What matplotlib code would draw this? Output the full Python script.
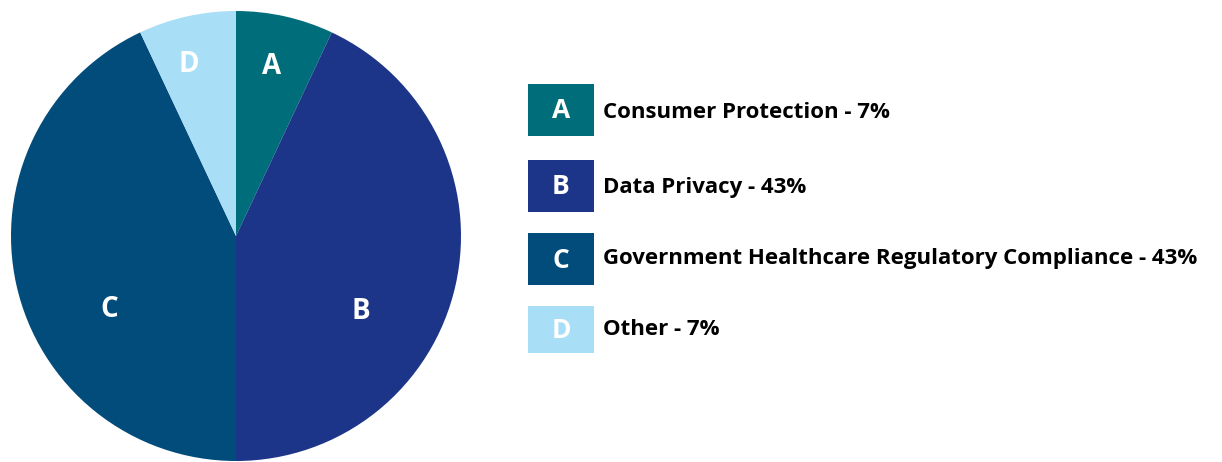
import numpy as np
import matplotlib.pyplot as plt
from matplotlib.patches import Rectangle

letters = ["A", "B", "C", "D"]
names = ["Consumer Protection", "Data Privacy",
         "Government Healthcare Regulatory Compliance", "Other"]
shares = [7, 43, 43, 7]
colors = ["#006E7A", "#1C3588", "#024C7C", "#A9DEF7"]

# where the letters sit inside the pie (radius, angle in degrees)
label_pos = [(0.77, 78), (0.65, -31), (0.65, 210), (0.79, 105.5)]

plt.rcParams['font.family'] = ['Open Sans', 'DejaVu Sans']

fig = plt.figure(figsize=(12.22, 4.62), dpi=100)

# Pie
ax = fig.add_axes([11 / 1222, 1 - 461 / 462, 450 / 1222, 450 / 462])
ax.pie(shares, colors=colors, startangle=90, counterclock=False,
       radius=1.0, wedgeprops=dict(linewidth=0))
ax.set_xlim(-1, 1)
ax.set_ylim(-1, 1)
ax.set_aspect('equal')
ax.axis('off')

for let, (r, ang) in zip(letters, label_pos):
    x = r * np.cos(np.radians(ang))
    y = r * np.sin(np.radians(ang))
    ax.text(x, y, let, color="white", fontsize=20, fontweight="bold",
            ha="center", va="center")

# Legend, in pixel coords
lg = fig.add_axes([0, 0, 1, 1])
lg.set_xlim(0, 1222)
lg.set_ylim(462, 0)
lg.axis('off')
box_top = [84, 160, 233, 306]
box_h = [52, 52, 52, 47]
text_base = [118, 193, 264, 335]
for i, (let, name, val) in enumerate(zip(letters, names, shares)):
    y0 = box_top[i]
    lg.add_patch(Rectangle((528, y0), 66, box_h[i], facecolor=colors[i],
                           edgecolor="none"))
    lg.text(561, y0 + box_h[i] / 2 + 1, let, color="white", fontsize=19,
            fontweight="bold", ha="center", va="center")
    lg.text(603, text_base[i], f"{name} - {val}%", color="black",
            fontsize=16, fontweight="bold", ha="left", va="baseline")

fig.savefig("out.png", dpi=100, facecolor="white")
